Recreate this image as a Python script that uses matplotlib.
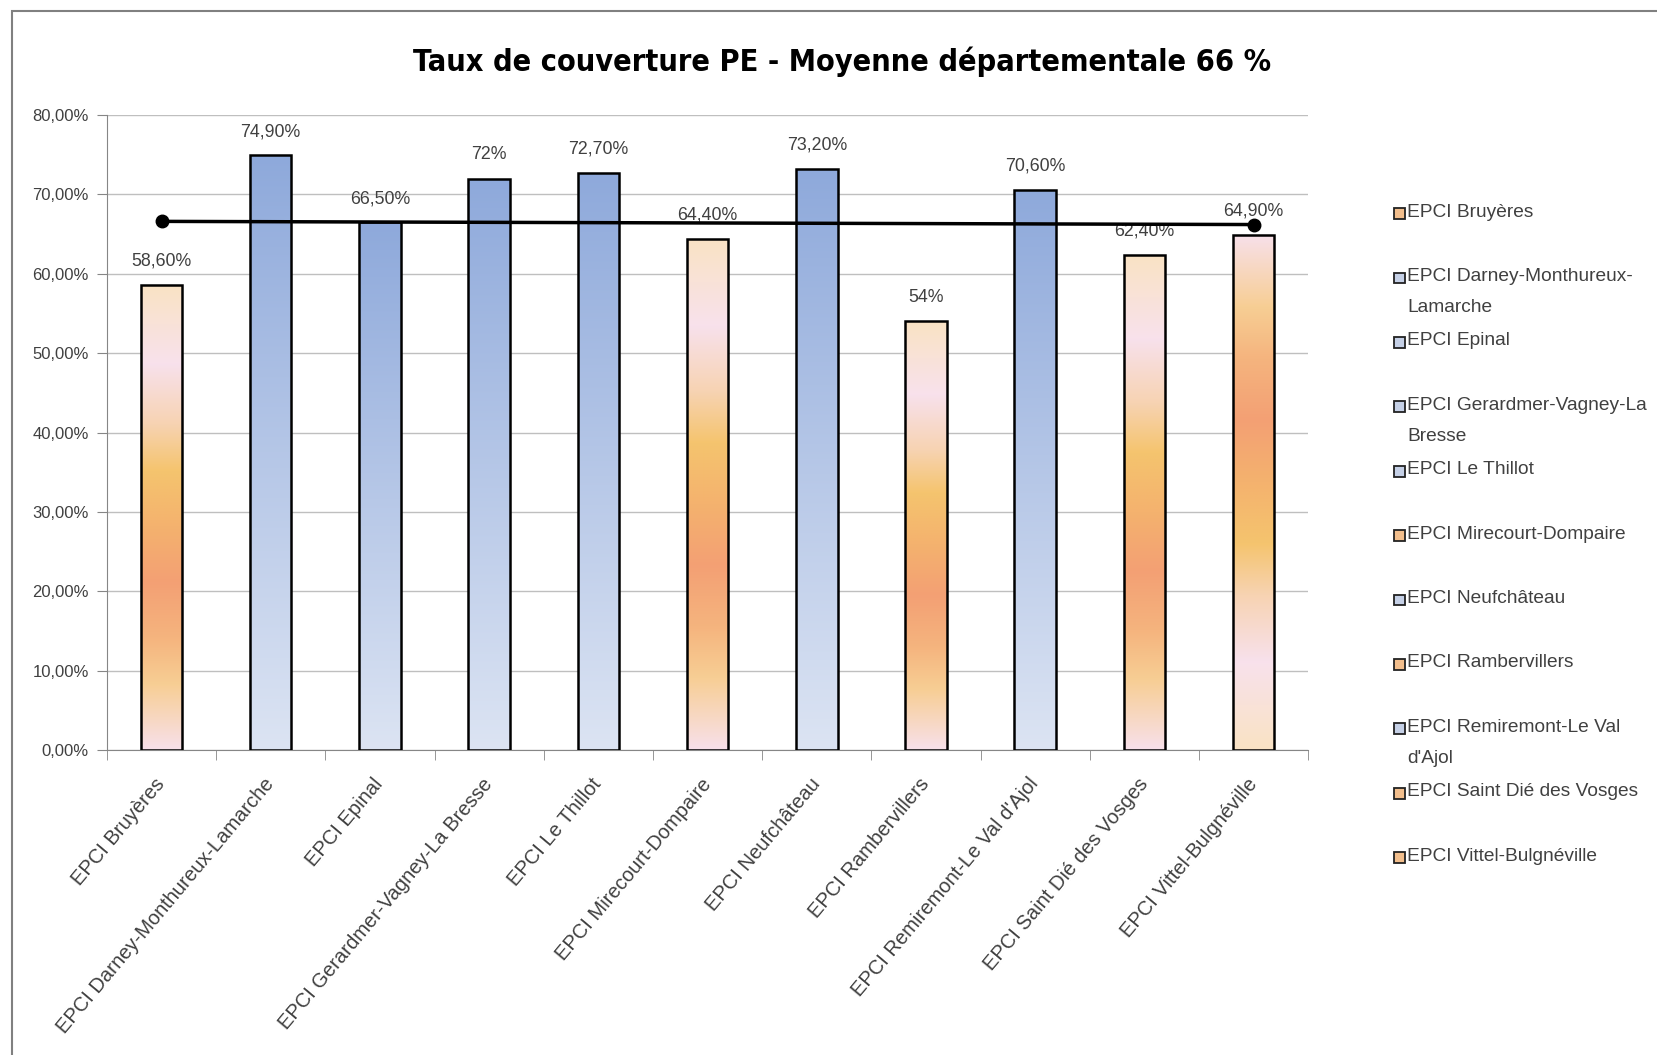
import numpy as np
import matplotlib.pyplot as plt
from matplotlib.colors import LinearSegmentedColormap
from matplotlib.patches import Rectangle

plt.rcParams['font.family'] = ['Liberation Sans', 'DejaVu Sans']

# data
epci = ["EPCI Bruyères", "EPCI Darney-Monthureux-Lamarche", "EPCI Epinal",
        "EPCI Gerardmer-Vagney-La Bresse", "EPCI Le Thillot", "EPCI Mirecourt-Dompaire",
        "EPCI Neufchâteau", "EPCI Rambervillers", "EPCI Remiremont-Le Val d'Ajol",
        "EPCI Saint Dié des Vosges", "EPCI Vittel-Bulgnéville"]
legend_labels = ["EPCI Bruyères", "EPCI Darney-Monthureux-\nLamarche", "EPCI Epinal",
                 "EPCI Gerardmer-Vagney-La\nBresse", "EPCI Le Thillot", "EPCI Mirecourt-Dompaire",
                 "EPCI Neufchâteau", "EPCI Rambervillers", "EPCI Remiremont-Le Val\nd'Ajol",
                 "EPCI Saint Dié des Vosges", "EPCI Vittel-Bulgnéville"]
taux = [58.6, 74.9, 66.5, 72.0, 72.7, 64.4, 73.2, 54.0, 70.6, 62.4, 64.9]
taux_labels = ["58,60%", "74,90%", "66,50%", "72%", "72,70%", "64,40%",
               "73,20%", "54%", "70,60%", "62,40%", "64,90%"]
moyenne_x = [0, 10]
moyenne_y = [66.6, 66.2]
yticks = [0, 10, 20, 30, 40, 50, 60, 70, 80]
title = "Taux de couverture PE - Moyenne départementale 66 %"

# fill style per bar
styles = ['o', 'b', 'b', 'b', 'b', 'o', 'b', 'o', 'b', 'o', 'or']

orange = LinearSegmentedColormap.from_list('orange', [
    (0.0, '#FAE3C4'), (0.17, '#F8E1EC'), (0.30, '#F7D3B2'), (0.40, '#F5C46E'),
    (0.52, '#F4B26E'), (0.64, '#F3A074'), (0.76, '#F5B47E'), (0.86, '#F7CE94'),
    (1.0, '#F8E0EA')])
blue = LinearSegmentedColormap.from_list('blue', ['#8EA9DB', '#DCE4F3'])

fig = plt.figure(figsize=(16.58, 10.55), dpi=100)
ax = fig.add_axes([0.0645, 0.289, 0.7245, 0.602])

x = np.arange(len(epci))
bars = ax.bar(x, taux, width=0.38, facecolor='none', edgecolor='black',
              linewidth=1.8, zorder=3)

grad = np.linspace(0, 1, 256).reshape(-1, 1)
for bar, st in zip(bars, styles):
    cmap = blue if st == 'b' else orange
    arr = grad[::-1] if st == 'or' else grad
    im = ax.imshow(arr, cmap=cmap, aspect='auto', interpolation='bicubic',
                   extent=(bar.get_x(), bar.get_x() + bar.get_width(), 0, bar.get_height()),
                   zorder=2)
    im.set_clip_path(bar)

for i, (v, lbl) in enumerate(zip(taux, taux_labels)):
    ax.annotate(lbl, (i, v), xytext=(0, 17), textcoords='offset points',
                ha='center', va='center', color='#404040', size=12.8, zorder=4)

ax.plot(moyenne_x, moyenne_y, color='black', lw=2.5, marker='o', ms=9, zorder=5)

ax.set_xlim(-0.5, len(epci) - 0.5)
ax.set_ylim(0, 80)
ax.set_yticks(yticks, [f"{t:.2f}%".replace('.', ',') for t in yticks])
ax.tick_params(axis='y', length=7, color='#868686', labelcolor='#404040',
               labelsize=12, pad=6)
ax.set_xticks(x)
ax.set_xticklabels(epci, rotation=50, ha='right', va='center',
                   rotation_mode='anchor', color='#404040', size=14.5)
ax.tick_params(axis='x', length=0, pad=22)
ax.set_xticks(np.arange(-0.5, len(epci)), minor=True)
ax.tick_params(axis='x', which='minor', length=7, color='#868686')

ax.yaxis.grid(True, color='#BFBFBF', lw=1)
ax.set_axisbelow(True)
for s in ['top', 'right']:
    ax.spines[s].set_visible(False)
for s in ['left', 'bottom']:
    ax.spines[s].set_color('#868686')

fig.text(0.508, 0.941, title, family=['DejaVu Sans'], stretch='condensed',
         weight='bold', size=22, ha='center', va='center')

# legend drawn by hand so wrapped entries keep even spacing
for i, (lab, st) in enumerate(zip(legend_labels, styles)):
    yc = 1 - (213.6 + i * 64.4) / 1055
    fc = '#C5D0E6' if st == 'b' else '#F2BE8C'
    fig.add_artist(Rectangle((0.8408, yc - 0.0052), 0.0066, 0.0104, facecolor=fc,
                             edgecolor='#222222', lw=1.3, transform=fig.transFigure))
    fig.text(0.8486, yc + 0.0095, lab, ha='left', va='top', size=13.8,
             color='#404040', linespacing=2.1)

# outer chart frame
fig.add_artist(Rectangle((0.007, -0.1), 1.2, 1.09, fill=False, edgecolor='#808080',
                         lw=1.5, transform=fig.transFigure))

fig.savefig('out.png', dpi=100)
